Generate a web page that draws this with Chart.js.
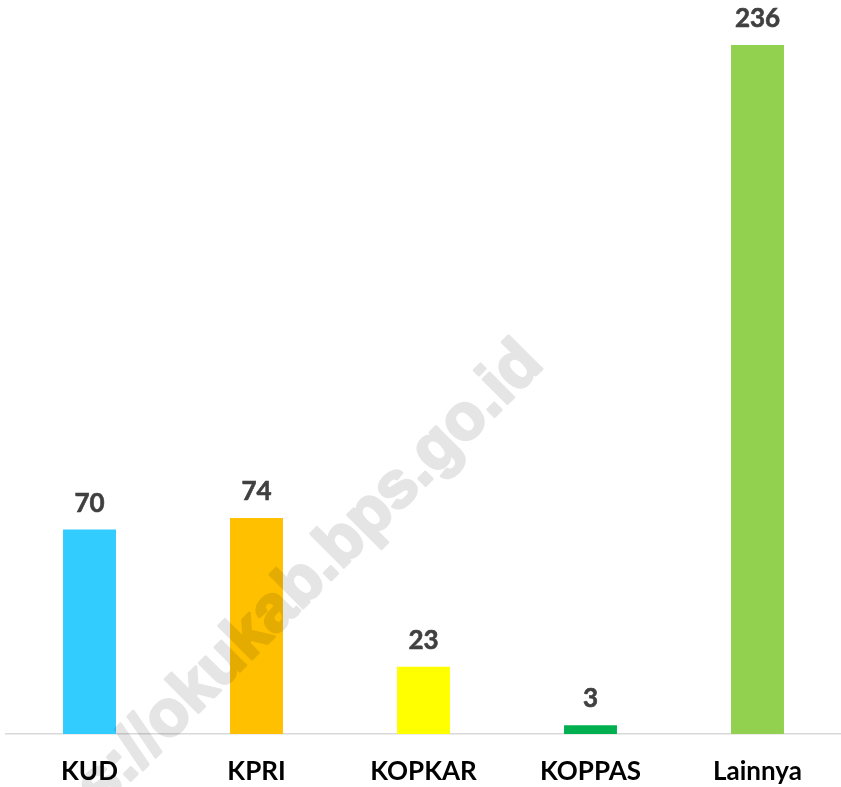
<!DOCTYPE html>
<html>
<head>
<meta charset="utf-8">
<script src="https://cdn.jsdelivr.net/npm/chart.js@4.4.1/dist/chart.umd.min.js"></script>
<style>
    body { margin: 0; background: #ffffff; }
    #wrap { width: 841px; height: 787px; }
</style>
</head>
<body>
<div id="wrap"><canvas id="koperasiChart"></canvas></div>
<script>
// Data koperasi per jenis
const categories = ["KUD", "KPRI", "KOPKAR", "KOPPAS", "Lainnya"];
const jumlahKoperasi = [70, 74, 23, 3, 236];
const barColors = ["#33CCFF", "#FFC000", "#FFFF00", "#00B050", "#92D050"];
const watermarkText = "https://okukab.bps.go.id";

// Draw the number above each bar
const valueLabels = {
    id: "valueLabels",
    afterDatasetsDraw(chart) {
        const ctx = chart.ctx;
        const meta = chart.getDatasetMeta(0);
        ctx.save();
        ctx.font = "bold 26px Lato";
        ctx.fillStyle = "#404040";
        ctx.strokeStyle = "#404040";
        ctx.lineWidth = 0.6;
        ctx.textAlign = "center";
        ctx.textBaseline = "alphabetic";
        meta.data.forEach((bar, i) => {
            ctx.fillText(String(jumlahKoperasi[i]), bar.x, bar.y - 18);
            ctx.strokeText(String(jumlahKoperasi[i]), bar.x, bar.y - 18);
        });
        ctx.restore();
    }
};

// Faint diagonal watermark over the chart (drawn opaque offscreen, then blended)
const watermark = {
    id: "watermark",
    afterDraw(chart) {
        const w = chart.width, h = chart.height;
        const off = document.createElement("canvas");
        off.width = w;
        off.height = h;
        const o = off.getContext("2d");
        o.translate(545, 366);
        o.rotate(-Math.PI / 4);
        o.font = "bold 65px 'Liberation Sans'";
        o.fillStyle = "#000000";
        o.strokeStyle = "#000000";
        o.lineWidth = 3;
        o.lineJoin = "round";
        o.textAlign = "right";
        o.textBaseline = "alphabetic";
        o.fillText(watermarkText, 0, 0);
        o.strokeText(watermarkText, 0, 0);

        const ctx = chart.ctx;
        ctx.save();
        ctx.globalAlpha = 0.1;
        ctx.drawImage(off, 0, 0, w, h);
        ctx.restore();
    }
};

const ctx = document.getElementById("koperasiChart").getContext("2d");
const koperasiChart = new Chart(ctx, {
    type: "bar",
    data: {
        labels: categories,
        datasets: [{
            data: jumlahKoperasi,
            backgroundColor: barColors,
            borderWidth: 0,
            barPercentage: 0.317,
            categoryPercentage: 1
        }]
    },
    options: {
        responsive: true,
        maintainAspectRatio: false,
        animation: false,
        layout: { padding: { top: 4, left: 6, right: 0, bottom: 0 } },
        plugins: {
            legend: { display: false },
            tooltip: { enabled: false }
        },
        scales: {
            x: {
                grid: { display: false, drawTicks: false },
                border: { display: true, color: "#d9d9d9", width: 1.5 },
                ticks: {
                    padding: 22,
                    color: "#000000",
                    font: { family: "Lato", size: 26, weight: "bold" }
                },
                afterFit(scale) { scale.height = 53; }
            },
            y: {
                display: false,
                min: 0,
                max: 250
            }
        }
    },
    plugins: [valueLabels, watermark]
});
</script>
</body>
</html>
